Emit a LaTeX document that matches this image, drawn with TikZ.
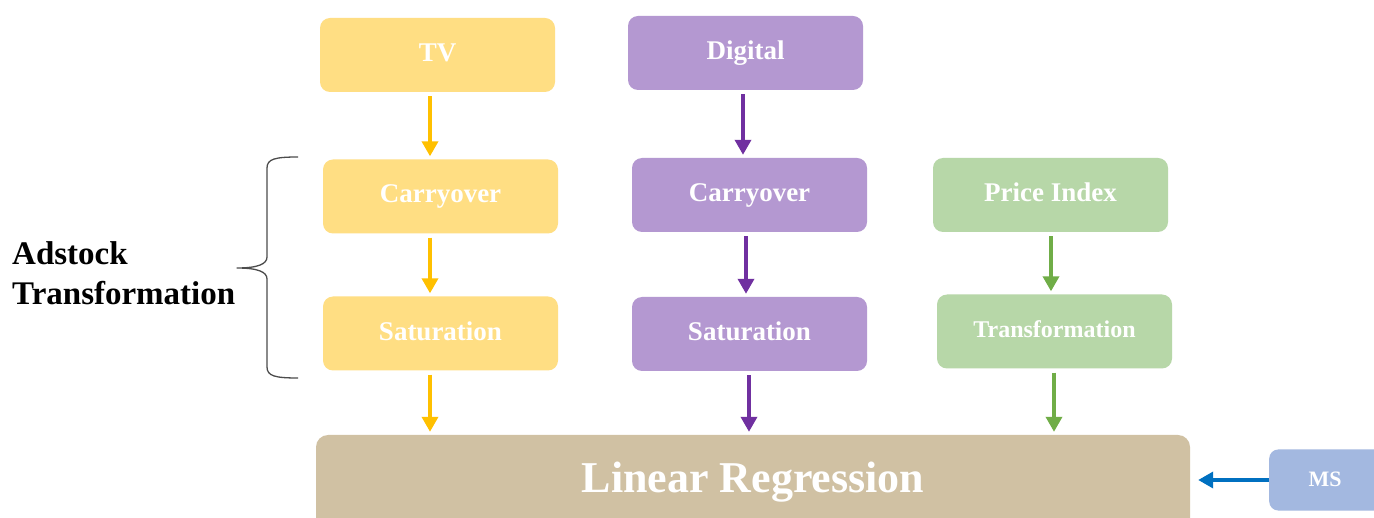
\documentclass[tikz,border=0pt]{standalone}
\usepackage{fontspec}
\setmainfont{Liberation Serif}
\usetikzlibrary{arrows.meta}
\definecolor{ybox}{HTML}{FFDE83}
\definecolor{pbox}{HTML}{B498D1}
\definecolor{gbox}{HTML}{B7D7A8}
\definecolor{tbox}{HTML}{D0C1A3}
\definecolor{bbox}{HTML}{A3B8E0}
\definecolor{yarr}{HTML}{FFC000}
\definecolor{parr}{HTML}{7030A0}
\definecolor{garr}{HTML}{70AD47}
\definecolor{barr}{HTML}{0070C0}
\tikzset{
  boxstyle/.style={rectangle, rounded corners=10pt, draw=none, minimum width=235pt, minimum height=74pt,
    text=white, font=\fontsize{27}{30}\selectfont\bfseries, inner sep=0pt},
  flowarrow/.style={line width=3.5pt, -{Triangle[width=16pt,length=15pt]}, shorten <=4pt, shorten >=3pt},
  bracestyle/.style={line width=1.3pt, black!70, line join=round},
}
\begin{document}
\begin{tikzpicture}[x=1pt,y=-1pt]
\clip (0,0) rectangle (1374,518);
\fill[white] (0,0) rectangle (1374,518);
% boxes
\node[boxstyle, fill=ybox] (tv) at (437.5,55) {\raisebox{5pt}{TV}};
\node[boxstyle, fill=pbox] (dig) at (745.5,53) {\raisebox{5pt}{Digital}};
\node[boxstyle, fill=ybox] (c1) at (440.5,196.5) {\raisebox{5pt}{Carryover}};
\node[boxstyle, fill=pbox] (c2) at (749.5,195) {\raisebox{5pt}{Carryover}};
\node[boxstyle, fill=gbox] (pi) at (1050.5,195) {\raisebox{5pt}{Price Index}};
\node[boxstyle, fill=ybox] (s1) at (440.5,333.5) {\raisebox{5pt}{Saturation}};
\node[boxstyle, fill=pbox] (s2) at (749.5,334) {\raisebox{5pt}{Saturation}};
\node[boxstyle, fill=gbox, font=\fontsize{24}{28}\selectfont\bfseries] (tr) at (1054.5,331.5) {\raisebox{5pt}{Transformation}};
\node[boxstyle, fill=tbox, minimum width=874pt, minimum height=110pt, rounded corners=12pt,
  font=\fontsize{44}{50}\selectfont\bfseries] (lr) at (753,490) {\raisebox{26pt}{Linear Regression}};
\node[boxstyle, fill=bbox, minimum width=120pt, minimum height=61pt, rounded corners=9pt,
  font=\fontsize{22}{26}\selectfont\bfseries, anchor=west] (ms) at (1269,480) {\hspace*{-8pt}\raisebox{2pt}{MS}};
% arrows
\draw[flowarrow, yarr] ([xshift=-7.5pt]tv.south) -- ([xshift=-10.5pt]c1.north);
\draw[flowarrow, yarr] ([xshift=-10.5pt]c1.south) -- ([xshift=-10.5pt]s1.north);
\draw[flowarrow, yarr] ([xshift=-10.5pt]s1.south) -- (lr.north -| 430,0);
\draw[flowarrow, parr] ([xshift=-2.5pt]dig.south) -- ([xshift=-6.5pt]c2.north);
\draw[flowarrow, parr] ([xshift=-3.5pt]c2.south) -- ([xshift=-3.5pt]s2.north);
\draw[flowarrow, parr] ([xshift=-0.5pt]s2.south) -- (lr.north -| 749,0);
\draw[flowarrow, garr] ([xshift=0.5pt]pi.south) -- ([xshift=-3.5pt]tr.north);
\draw[flowarrow, garr] ([xshift=-0.5pt]tr.south) -- (lr.north -| 1054,0);
\draw[line width=3.5pt, barr, -{Triangle[width=16pt,length=15pt]}, shorten >=8pt] (ms.west) -- (lr.east |- ms.west);
% brace and label
\coordinate (bt) at (298,157);
\coordinate (tip) at (237,268);
\coordinate (bb) at (298,378);
\draw[bracestyle] (bt) .. controls (275,157) and (267,159) .. (267,168)
  -- (267,257) .. controls (267,264) and (258,268) .. (tip)
  .. controls (258,268) and (267,272) .. (267,279)
  -- (267,367) .. controls (267,376) and (275,378) .. (bb);
\node[anchor=west, align=left, font=\fontsize{33}{40}\selectfont\bfseries, inner sep=0pt] (lab) at (12,273) {Adstock\\Transformation};
\end{tikzpicture}
\end{document}
